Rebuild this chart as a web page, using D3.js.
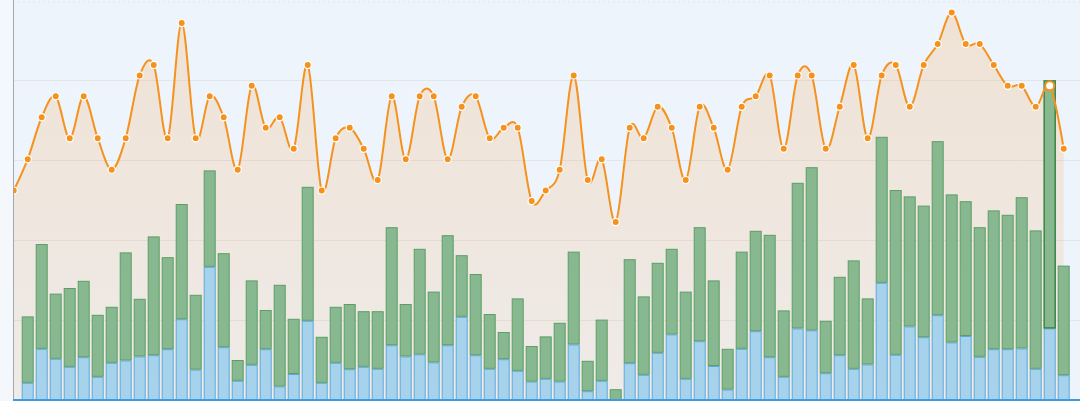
<!DOCTYPE html>
<html>
<head>
<meta charset="utf-8">
<script src="https://cdn.jsdelivr.net/npm/d3@7"></script>
<style>
    html, body { margin: 0; padding: 0; background: #f4f7fc; }
    svg { display: block; font-family: "Noto Sans", sans-serif; }
</style>
</head>
<body>
<svg id="chart"></svg>
<script>
/* =========================================================
   Data
   ========================================================= */

const categories = d3.range(76);

const lineValues = [
    20, 23, 27, 29, 25, 29, 25, 22, 25, 31, 32, 25, 36, 25, 29, 27,
    22, 30, 26, 27, 24, 32, 20, 25, 26, 24, 21, 29, 23, 29, 29, 23,
    28, 29, 25, 26, 26, 19, 20, 22, 31, 21, 23, 17, 26, 25, 28, 26,
    21, 28, 26, 22, 28, 29, 31, 24, 31, 31, 24, 28, 32, 25, 31, 32,
    28, 32, 34, 37, 34, 34, 32, 30, 30, 28, 30, 24
];

// lower (blue) segment of each stacked bar, first category has no bar
const blueValues = [
    null, 4.3, 12.8, 10.3, 8.3, 10.7, 5.8, 9.3, 9.9, 10.9, 11.2, 12.7, 20.2,
    7.6, 33.3, 13.2, 4.8, 8.8, 12.7, 3.4, 6.5, 19.8, 4.3, 9.3, 7.7, 8.3,
    7.8, 13.7, 10.9, 11.4, 9.4, 13.7, 20.8, 11.2, 7.8, 10.2, 7.3, 4.6, 5.3,
    4.6, 13.9, 2.2, 4.8, 0, 9.2, 6.3, 11.8, 16.4, 5.3, 14.7, 8.5, 2.6,
    12.8, 17.2, 10.7, 5.8, 17.9, 17.4, 6.7, 11.2, 7.8, 8.9, 29.3, 11.3,
    18.4, 15.7, 21.2, 14.4, 16.0, 10.8, 12.7, 12.7, 12.9, 7.8, 17.9, 6.2
];

// upper (green) segment of each stacked bar
const greenValues = [
    null, 16.6, 26.2, 16.3, 19.7, 19.1, 15.5, 14.0, 27.0, 14.4, 29.7, 23.0, 28.8,
    18.7, 24.1, 23.5, 5.2, 21.1, 9.8, 25.4, 13.8, 33.5, 11.5, 14.0, 16.3, 13.9,
    14.4, 29.5, 13.1, 26.4, 17.7, 27.5, 15.4, 20.3, 13.7, 6.8, 18.1, 8.9, 10.6,
    14.7, 23.2, 7.6, 15.3, 2.7, 26.0, 19.6, 22.5, 21.4, 21.8, 28.5, 21.4, 10.2,
    24.3, 25.1, 30.6, 16.6, 36.4, 40.8, 13.1, 19.6, 27.1, 16.5, 36.5, 41.2,
    32.5, 32.9, 43.5, 37.0, 33.7, 32.4, 34.7, 33.6, 37.8, 34.6, 62.0, 27.4
];

const barTicks = [0, 20, 40, 60, 80, 100];
const hoverIndex = 74;

/* =========================================================
   Layout
   ========================================================= */

const WIDTH = 1080;
const HEIGHT = 401;
const PLOT = { left: 13, right: 1080, top: 0, bottom: 400 };
const BAR_WIDTH = 12;

const COLORS = {
    plotBg:     "#eef4fb",
    grid:       "#e2e5ea",
    axisLeft:   "#a4a8ae",
    axisBottom: "#3d9be0",
    line:       "#f5921e",
    green:      "#87b890",
    greenEdge:  "#5c9e64",
    blue:       "#a6d2ec",
    blueEdge:   "#5caadd"
};

/* =========================================================
   Scales
   ========================================================= */

const x = d3.scalePoint()
    .domain(categories)
    .range([13.7, 1063.7]);

const yBar = d3.scaleLinear()
    .domain([0, 100])
    .range([PLOT.bottom, PLOT.top]);

const yLine = d3.scaleLinear()
    .domain([0, 38.2])
    .range([PLOT.bottom, PLOT.top]);

/* =========================================================
   SVG + background
   ========================================================= */

const svg = d3.select("#chart")
    .attr("width", WIDTH)
    .attr("height", HEIGHT);

const defs = svg.append("defs");

const areaGrad = defs.append("linearGradient")
    .attr("id", "areaGrad")
    .attr("x1", 0).attr("y1", 0)
    .attr("x2", 0).attr("y2", 1);
areaGrad.append("stop").attr("offset", "0%")
    .attr("stop-color", "#f59a3c").attr("stop-opacity", 0.2);
areaGrad.append("stop").attr("offset", "100%")
    .attr("stop-color", "#f59a3c").attr("stop-opacity", 0.1);

defs.append("clipPath").attr("id", "plotClip")
    .append("rect")
    .attr("x", PLOT.left)
    .attr("y", PLOT.top)
    .attr("width", PLOT.right - PLOT.left)
    .attr("height", PLOT.bottom - PLOT.top);

svg.append("rect")
    .attr("x", PLOT.left)
    .attr("y", 0)
    .attr("width", PLOT.right - PLOT.left)
    .attr("height", HEIGHT)
    .attr("fill", COLORS.plotBg);

/* =========================================================
   Gridlines
   ========================================================= */

const grid = svg.append("g")
    .attr("transform", `translate(${PLOT.left},0)`)
    .call(d3.axisLeft(yBar)
        .tickValues(barTicks.slice(1))
        .tickSize(-(PLOT.right - PLOT.left))
        .tickFormat(""));
grid.select(".domain").remove();
grid.selectAll(".tick line")
    .attr("stroke", COLORS.grid)
    .attr("stroke-width", 1);
grid.selectAll(".tick")
    .filter(d => d === 100)
    .select("line")
    .attr("stroke-dasharray", "2,3")
    .attr("transform", "translate(0,1.5)");

const plot = svg.append("g").attr("clip-path", "url(#plotClip)");

/* =========================================================
   Area under the line
   ========================================================= */

const curve = d3.curveCardinal.tension(0);

const area = d3.area()
    .x((_, i) => x(i))
    .y0(PLOT.bottom)
    .y1(v => yLine(v))
    .curve(curve);

plot.append("path")
    .datum(lineValues)
    .attr("d", area)
    .attr("fill", "url(#areaGrad)");

/* =========================================================
   Stacked bars
   ========================================================= */

const barRows = categories
    .filter(i => blueValues[i] != null)
    .map(i => ({ i, blue: blueValues[i], green: greenValues[i] }));

const stacked = d3.stack().keys(["blue", "green"])(barRows);

const segFill = { blue: COLORS.blue, green: COLORS.green };
const segEdge = { blue: COLORS.blueEdge, green: COLORS.greenEdge };

plot.selectAll("g.series")
    .data(stacked)
    .enter()
    .append("g")
    .attr("class", "series")
    .each(function (s) {
        d3.select(this).selectAll("rect")
            .data(s)
            .enter()
            .append("rect")
            .attr("x", d => x(d.data.i) - BAR_WIDTH / 2 + 0.5)
            .attr("y", d => yBar(d[1]) + 0.5)
            .attr("width", BAR_WIDTH - 1)
            .attr("height", d => Math.max(0, yBar(d[0]) - yBar(d[1]) - 1))
            .attr("fill", segFill[s.key])
            .attr("stroke", d => d.data.i === hoverIndex && s.key === "green"
                ? "#3f8a4b" : segEdge[s.key])
            .attr("stroke-width", d => d.data.i === hoverIndex && s.key === "green" ? 1.6 : 1);
    });

/* =========================================================
   Line + dots
   ========================================================= */

const line = d3.line()
    .x((_, i) => x(i))
    .y(v => yLine(v))
    .curve(curve);

plot.append("path")
    .datum(lineValues)
    .attr("d", line)
    .attr("fill", "none")
    .attr("stroke", COLORS.line)
    .attr("stroke-width", 2);

plot.selectAll("circle.dot")
    .data(lineValues)
    .enter()
    .append("circle")
    .attr("class", "dot")
    .attr("cx", (_, i) => x(i))
    .attr("cy", v => yLine(v))
    .attr("r", (_, i) => i === hoverIndex ? 4.5 : 3.6)
    .attr("fill", (_, i) => i === hoverIndex ? "#ffffff" : COLORS.line)
    .attr("stroke", (_, i) => i === hoverIndex ? COLORS.line : "#ffffff")
    .attr("stroke-width", (_, i) => i === hoverIndex ? 2 : 1.2);

/* =========================================================
   Axes
   ========================================================= */

svg.append("line")
    .attr("x1", PLOT.left + 0.5).attr("x2", PLOT.left + 0.5)
    .attr("y1", 0).attr("y2", PLOT.bottom)
    .attr("stroke", COLORS.axisLeft)
    .attr("stroke-width", 1);

svg.append("line")
    .attr("x1", PLOT.left).attr("x2", PLOT.right)
    .attr("y1", PLOT.bottom).attr("y2", PLOT.bottom)
    .attr("stroke", COLORS.axisBottom)
    .attr("stroke-width", 2);
</script>
</body>
</html>
